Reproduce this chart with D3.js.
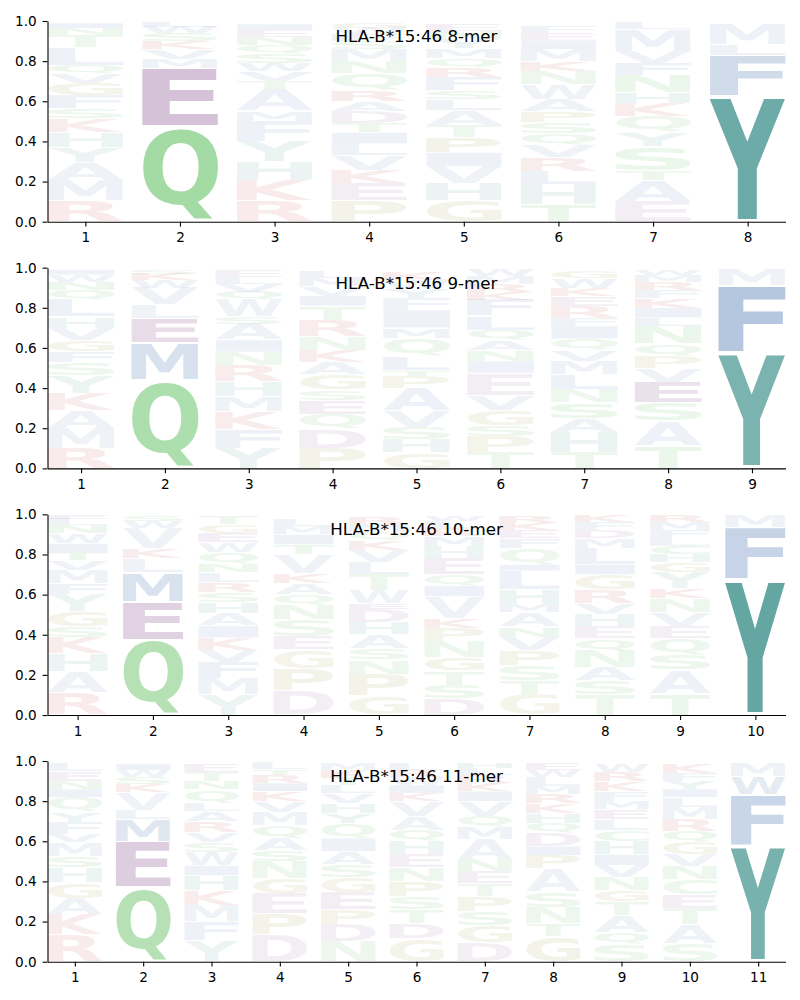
<!DOCTYPE html>
<html><head><meta charset="utf-8">
<script src="https://cdn.jsdelivr.net/npm/d3@7"></script>
<style>body{margin:0;background:#fff}svg{display:block}</style>
</head><body>
<svg id="chart" width="800" height="1000"></svg>
<script>
// Each column: [letter, cumulative top (0-1), weight/opacity (default faint)]
const titles = ["HLA-B*15:46 8-mer","HLA-B*15:46 9-mer","HLA-B*15:46 10-mer","HLA-B*15:46 11-mer"];
const yTicks = [0,0.2,0.4,0.6,0.8,1.0];

const mer8 = [
 [["R",.105],["M",.205],["A",.295],["Y",.37],["H",.445],["K",.515],["S",.565],["F",.63],["G",.69],["V",.74],["Q",.78],["L",.87],["T",.93],["N",.965],["I",.99]],
 [["Q",.475,.49],["E",.765,.37],["M",.81],["V",.86],["K",.90],["S",.94],["W",.97],["L",.995]],
 [["R",.105],["K",.205],["H",.30],["Y",.40],["F",.50],["M",.55],["A",.66],["T",.70],["V",.75],["W",.79],["S",.84],["Q",.88],["N",.92],["E",.955],["I",.985]],
 [["P",.105],["E",.19],["K",.255],["V",.33],["L",.39],["I",.445],["T",.49],["D",.55],["A",.60],["R",.655],["Q",.74],["N",.80],["M",.86],["S",.90],["F",.935],["W",.965],["G",.99]],
 [["G",.105],["H",.19],["V",.275],["I",.345],["P",.42],["T",.48],["A",.555],["L",.61],["S",.655],["F",.72],["R",.77],["Q",.815],["M",.865],["Y",.91],["N",.95],["E",.98]],
 [["T",.085],["H",.185],["L",.25],["R",.32],["V",.38],["Q",.44],["S",.495],["P",.55],["A",.61],["W",.685],["N",.75],["K",.80],["M",.86],["I",.90],["E",.94],["F",.975]],
 [["E",.10],["A",.205],["T",.255],["S",.375],["Y",.445],["Q",.525],["K",.59],["H",.645],["N",.73],["F",.79],["V",.85],["M",.96],["L",.99]],
 [["Y",.625,.76],["F",.83,.28],["L",.885],["M",.99]]
];
const mer9 = [
 [["R",.10],["M",.20],["A",.29],["K",.375],["Y",.465],["S",.53],["F",.585],["G",.64],["V",.70],["H",.755],["L",.84],["Q",.89],["N",.93],["W",.965],["I",.99]],
 [["Q",.44,.44],["M",.625,.24],["E",.75,.21],["L",.815],["V",.90],["W",.94],["K",.97],["S",.99]],
 [["Y",.10],["F",.195],["K",.285],["M",.36],["H",.435],["R",.515],["N",.58],["I",.64],["A",.72],["S",.755],["W",.84],["Q",.88],["V",.92],["L",.955],["E",.985]],
 [["P",.10],["D",.195],["Q",.27],["E",.34],["S",.39],["G",.47],["A",.53],["K",.59],["N",.66],["R",.74],["T",.81],["I",.86],["V",.91],["M",.95],["L",.985]],
 [["G",.08],["H",.145],["S",.205],["V",.285],["A",.40],["P",.46],["T",.49],["L",.56],["Q",.65],["M",.70],["I",.79],["F",.85],["Y",.90],["W",.94],["K",.98]],
 [["T",.08],["P",.16],["S",.215],["G",.29],["V",.365],["E",.475],["I",.535],["N",.59],["A",.64],["Q",.69],["L",.76],["F",.84],["K",.88],["R",.92],["M",.96],["W",.99]],
 [["T",.08],["H",.18],["A",.25],["S",.33],["N",.395],["L",.47],["M",.535],["V",.59],["Q",.645],["I",.71],["F",.75],["R",.81],["E",.86],["K",.90],["W",.945],["G",.98]],
 [["T",.11],["A",.235],["S",.33],["E",.43,.18],["V",.50],["P",.56],["Q",.62],["N",.71],["L",.75],["I",.80],["K",.85],["F",.89],["R",.93],["M",.965],["W",.99]],
 [["Y",.575,.69],["F",.91,.45],["M",.99]]
];
const mer10 = [
 [["R",.11],["A",.215],["H",.305],["K",.385],["S",.44],["G",.515],["Y",.60],["F",.655],["M",.72],["V",.77],["T",.81],["I",.855],["W",.905],["N",.945],["L",.975],["E",.995]],
 [["Q",.375,.40],["E",.565,.27],["M",.71,.23],["L",.78],["K",.83],["V",.93],["W",.965],["S",.99]],
 [["Y",.105],["M",.185],["F",.265],["V",.325],["K",.385],["I",.445],["A",.505],["H",.56],["S",.61],["R",.66],["L",.71],["N",.75],["Q",.81],["W",.86],["E",.905],["G",.95],["T",.99]],
 [["D",.12],["P",.23],["G",.325],["E",.39],["S",.475],["N",.55],["Q",.60],["A",.655],["K",.705],["V",.80],["T",.85],["I",.90],["M",.94],["L",.975]],
 [["G",.095],["P",.205],["N",.275],["S",.33],["A",.40],["H",.46],["D",.53],["E",.555],["W",.62],["T",.70],["L",.76],["V",.82],["K",.87],["Q",.91],["M",.95],["R",.98]],
 [["D",.08],["S",.15],["T",.22],["G",.285],["N",.365],["P",.43],["K",.48],["V",.59],["I",.645],["Q",.70],["E",.78],["H",.84],["M",.89],["R",.93],["L",.965],["W",.99]],
 [["G",.105],["T",.17],["S",.245],["P",.32],["V",.39],["N",.44],["A",.51],["M",.55],["H",.625],["L",.72],["I",.75],["Q",.83],["F",.88],["E",.92],["K",.955],["R",.985]],
 [["T",.10],["S",.17],["A",.235],["N",.32],["Q",.38],["E",.44],["H",.50],["V",.555],["R",.625],["G",.70],["I",.75],["L",.83],["M",.88],["D",.92],["F",.96],["K",.99]],
 [["T",.105],["A",.225],["S",.30],["Q",.38],["E",.44],["V",.51],["N",.58],["K",.63],["Y",.71],["G",.76],["H",.80],["C",.84],["L",.88],["F",.92],["M",.96],["R",.99]],
 [["Y",.675,.81],["F",.935,.34],["M",.995]]
];
const mer11 = [
 [["R",.135],["K",.235],["A",.315],["G",.395],["H",.47],["S",.525],["M",.595],["V",.635],["F",.695],["Y",.745],["Q",.82],["I",.86],["N",.90],["E",.95],["L",.99]],
 [["Q",.37,.40],["E",.60,.30],["M",.71,.19],["L",.755],["V",.845],["K",.885],["S",.92],["W",.955],["I",.985]],
 [["Y",.105],["F",.20],["M",.28],["K",.355],["H",.43],["I",.48],["W",.545],["S",.595],["V",.645],["R",.70],["A",.75],["L",.79],["Q",.86],["N",.90],["T",.945],["E",.985]],
 [["D",.135],["P",.24],["E",.34],["G",.415],["N",.50],["S",.555],["A",.615],["Q",.68],["M",.745],["V",.80],["K",.85],["I",.89],["R",.93],["T",.96],["L",.99]],
 [["N",.10],["D",.185],["P",.26],["E",.345],["G",.42],["S",.485],["A",.55],["I",.615],["Q",.69],["Y",.74],["H",.79],["V",.84],["L",.88],["T",.92],["K",.955],["M",.99]],
 [["G",.115],["D",.19],["T",.26],["S",.325],["P",.40],["N",.47],["E",.535],["H",.60],["Q",.655],["A",.725],["V",.80],["K",.84],["I",.88],["W",.92],["R",.955],["L",.99]],
 [["D",.095],["G",.18],["S",.25],["P",.325],["T",.39],["E",.45],["N",.51],["A",.61],["M",.67],["Q",.725],["V",.80],["I",.85],["K",.89],["R",.93],["L",.965],["H",.99]],
 [["G",.125],["T",.19],["N",.27],["S",.35],["A",.465],["P",.53],["I",.575],["D",.64],["Q",.69],["H",.74],["K",.79],["R",.835],["M",.875],["L",.92],["W",.955],["E",.99]],
 [["S",.085],["Q",.145],["A",.23],["T",.30],["G",.355],["N",.42],["V",.48],["I",.535],["H",.60],["C",.655],["L",.71],["E",.76],["M",.80],["F",.85],["K",.90],["R",.945],["W",.985]],
 [["S",.09],["A",.185],["T",.265],["E",.335],["C",.41],["N",.475],["V",.535],["G",.595],["Q",.65],["R",.71],["M",.77],["L",.82],["I",.86],["Y",.90],["F",.94],["K",.99]],
 [["Y",.58,.70],["F",.835,.33],["W",.925,.17],["M",.99]]
];
const panels = [mer8, mer9, mer10, mer11];

const groupColor = {green:"#45b445", purple:"#8c5a94", teal:"#3f918c", blue:"#5a80b8", red:"#c83c3c", olive:"#8f8c32"};
const letterGroup = {Q:"green",N:"green",S:"green",T:"green",C:"green",D:"purple",E:"purple",H:"teal",Y:"teal",
  A:"blue",V:"blue",L:"blue",I:"blue",M:"blue",F:"blue",W:"blue",K:"red",R:"red",G:"olive",P:"olive"};
const faintAlpha = 0.1;

const left = 47.5, right = 785.5;
const panelTop0 = 21, panelStep = 246.67, panelH = 200.7;
const FONT = "'DejaVu Sans', 'Liberation Sans', sans-serif";
const svg = d3.select("#chart");

// tight glyph bounds
const cv = document.createElement("canvas");
const ctx = cv.getContext("2d");
ctx.font = "bold 100px " + FONT;
const bcache = {};
function bounds(ch){
  if(!bcache[ch]){
    const m = ctx.measureText(ch);
    bcache[ch] = {l:-m.actualBoundingBoxLeft, r:m.actualBoundingBoxRight, t:-m.actualBoundingBoxAscent, b:m.actualBoundingBoxDescent};
  }
  return bcache[ch];
}
const vpad = 0.05, colW = 0.8;

panels.forEach((cols, pi) => {
  const top = panelTop0 + pi*panelStep, bottom = top + panelH;
  const n = cols.length;
  const x = d3.scaleLinear().domain([1 - colW/2, n + colW/2]).range([left, right]);
  const y = d3.scaleLinear().domain([0, 1]).range([bottom, top]);
  const g = svg.append("g");

  const glyphs = [];
  cols.forEach((stack, ci) => {
    let prev = 0;
    stack.forEach(([L, t, a]) => {
      glyphs.push({L, pos: ci+1, y0: prev, y1: t, a: a === undefined ? faintAlpha : a});
      prev = t;
    });
  });

  g.append("g").selectAll("text").data(glyphs).join("text")
    .text(d => d.L)
    .attr("font-family", FONT).attr("font-weight", "bold").attr("font-size", 100)
    .attr("fill", d => groupColor[letterGroup[d.L]])
    .attr("fill-opacity", d => d.a)
    .attr("transform", d => {
      const b = bounds(d.L);
      const h = d.y1 - d.y0;
      const pxTop = y(d.y1 - vpad*h/2), pxBot = y(d.y0 + vpad*h/2);
      const pxL = x(d.pos - colW/2), pxR = x(d.pos + colW/2);
      const sx = (pxR - pxL)/(b.r - b.l), sy = (pxBot - pxTop)/(b.b - b.t);
      return `translate(${pxL - b.l*sx},${pxTop - b.t*sy}) scale(${sx},${sy})`;
    });

  const ya = g.append("g").attr("transform", `translate(${left},0)`)
    .call(d3.axisLeft(y).tickValues(yTicks).tickFormat(d3.format(".1f")).tickSize(4.9).tickSizeOuter(0).tickPadding(6));
  const xa = g.append("g").attr("transform", `translate(0,${bottom})`)
    .call(d3.axisBottom(x).tickValues(d3.range(1, n+1)).tickFormat(d3.format("d")).tickSize(4.9).tickSizeOuter(0).tickPadding(6));
  [ya, xa].forEach(a => {
    a.attr("font-family", FONT).attr("font-size", 13.6);
    a.selectAll("path.domain").attr("stroke", "#000").attr("stroke-width", 1.1);
    a.selectAll(".tick line").attr("stroke", "#000").attr("stroke-width", 1.1);
    a.selectAll(".tick text").attr("fill", "#000");
  });

  g.append("text").attr("x", (left+right)/2).attr("y", top + 21)
    .attr("text-anchor", "middle").attr("font-family", FONT).attr("font-size", 16.7)
    .attr("fill", "#000").text(titles[pi]);
});
</script>
</body></html>
